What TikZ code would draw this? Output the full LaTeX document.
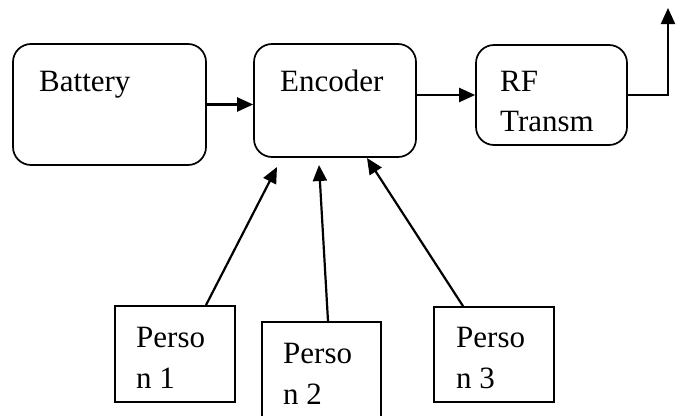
\documentclass[tikz,border=0pt]{standalone}
\usepackage{fontspec}
\setmainfont{Liberation Serif}
\usetikzlibrary{arrows.meta,calc}
\begin{document}
\begin{tikzpicture}[x=1pt,y=-1pt,
  rbox/.style={draw, line width=1.7pt, rounded corners=18pt, inner sep=0pt},
  pbox/.style={draw, line width=1.8pt, inner sep=0pt},
  lbl/.style={anchor=base west, inner sep=0pt, font=\fontsize{31}{41}\selectfont},
  arr/.style={line width=2.2pt, -{Triangle[length=16pt,width=14pt]}}]
\useasboundingbox (0,0) rectangle (682,415);
\clip (0,0) rectangle (682,415);

% main chain
\node[rbox, minimum width=193pt, minimum height=121pt] (bat) at (109.5,104.5) {};
\node[rbox, minimum width=162pt, minimum height=113pt] (enc) at (335,100.5) {};
\node[rbox, minimum width=151pt, minimum height=100pt] (rf)  at (551.5,95) {};

\node[lbl] (tbat) at (39,91) {Battery};
\node[lbl] (tenc) at (280,91) {Encoder};
\node[lbl] (trf1) at (500,91) {RF};
\node[lbl] (trf2) at (500,131) {Transm};

% person inputs
\node[pbox, minimum width=120pt, minimum height=96pt] (p1) at (175,354) {};
\node[pbox, minimum width=119pt, minimum height=98pt] (p2) at (321.5,371) {};
\node[pbox, minimum width=120pt, minimum height=95pt] (p3) at (494,354.5) {};

\node[lbl] (tp1a) at (136,347) {Perso};
\node[lbl] (tp1b) at (136,388) {n 1};
\node[lbl] (tp2a) at (283,363) {Perso};
\node[lbl] (tp2b) at (283,404) {n 2};
\node[lbl] (tp3a) at (456,347) {Perso};
\node[lbl] (tp3b) at (456,388) {n 3};

% connector ends
\coordinate (ant) at (668,8);
\coordinate (t1) at (277,167);
\coordinate (t2) at (319,165);
\coordinate (t3) at (367,158);

% connectors
\draw[arr] (bat.east) -- (enc.west |- bat.east);
\draw[arr] (rf.west -| enc.east) -- (rf.west);
\draw[arr] (rf.east) -| (ant);
\draw[arr] ([xshift=31pt]p1.north) -- (t1);
\draw[arr] ([xshift=6.5pt]p2.north) -- (t2);
\draw[arr] ([xshift=-31pt]p3.north) -- (t3);
\end{tikzpicture}
\end{document}
